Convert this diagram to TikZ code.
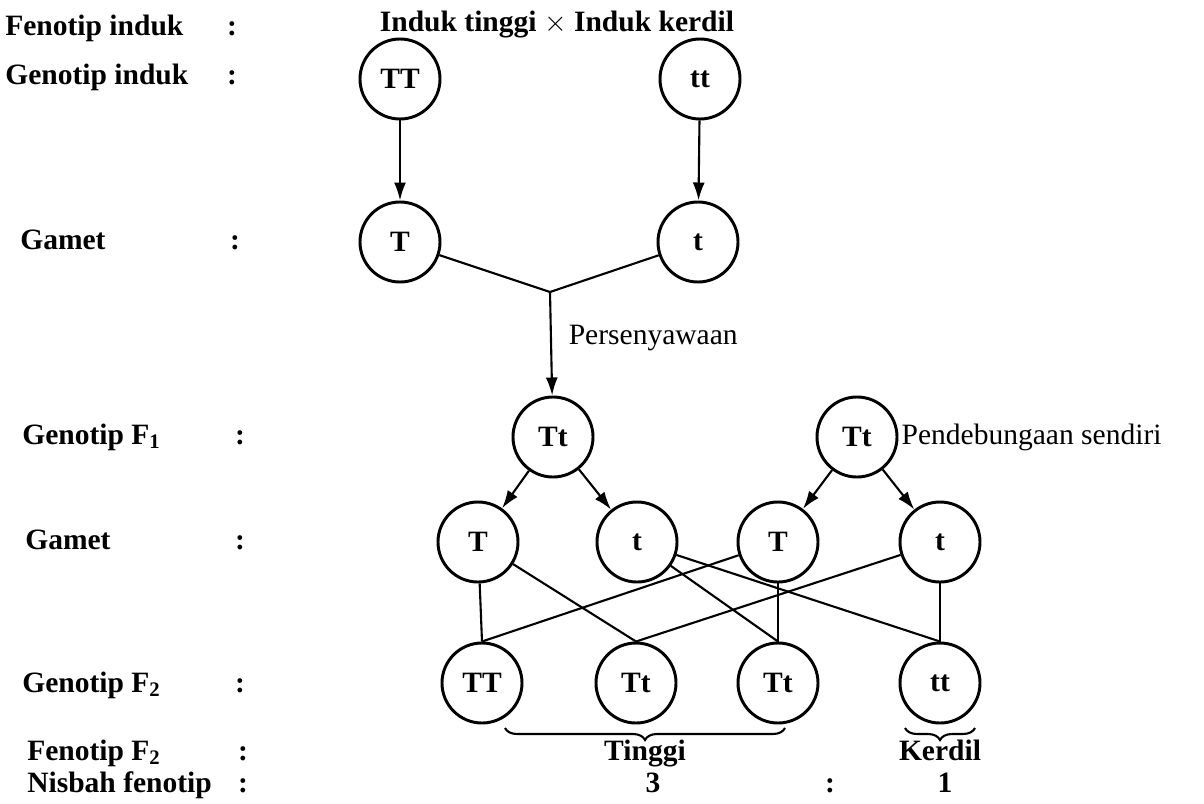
\documentclass[tikz,border=0pt]{standalone}
\usepackage{fontspec}
\setmainfont{Liberation Serif}
\usetikzlibrary{arrows.meta, decorations.pathreplacing, positioning}
\tikzset{
    gene/.style={circle, draw, line width=2.1pt, minimum size=2cm, inner sep=0pt},
    geneArrow/.style={-{Latex[length=4.5mm, width=3mm]}, line width=1.5pt},
    geneLine/.style={line width=1.5pt},
    rowText/.style={inner sep=0pt, text height=14pt, text depth=4pt},
    phenoBrace/.style={decorate, decoration={brace, mirror, amplitude=3mm}, line width=1.5pt},
}
\newcommand{\drawRow}[5]{
    \node[rowText, anchor=west] (#1) at (#2,#4) {#5};
    \node[rowText] (#1c) at (#3,#4) {:};
}
\newcommand{\drawCross}[2]{
    \draw[geneLine] (#1) -- (#2.north);
}

\begin{document}
\begin{tikzpicture}[x=0.025cm, y=-0.025cm, font=\fontsize{21}{25}\selectfont\bfseries]

        \useasboundingbox (0,0) rectangle (1204,803);

        % row labels
        \drawRow{fi}{5}{232}{28}{Fenotip induk}
        \drawRow{gi}{5}{232}{77}{Genotip induk}
        \drawRow{ga}{20}{235}{242}{Gamet}
        \drawRow{gf}{22}{240}{437}{Genotip F\textsubscript{1}}
        \drawRow{gb}{25}{240}{542}{Gamet}
        \drawRow{gs}{22}{240}{685}{Genotip F\textsubscript{2}}
        \drawRow{fs}{27}{243}{753}{Fenotip F\textsubscript{2}}
        \drawRow{nf}{27}{243}{785}{Nisbah fenotip}

        \node[rowText] (cross) at (557,24) {Induk tinggi $\times$ Induk kerdil};

        % parents and gametes
        \node[gene] (pTT) at (400,79) {TT};
        \node[gene] (ptt) at (700,79) {tt};
        \node[gene] (gT) at (400,242) {T};
        \node[gene] (gt) at (698,242) {t};
        \coordinate (j) at (550,292);

        \draw[geneArrow] (pTT) -- (gT);
        \draw[geneArrow] (ptt) -- (gt);
        \draw[geneLine] (gT) -- (j) -- (gt);

        % F1
        \node[gene] (fA) at (553,437) {Tt};
        \node[gene, label={[font=\fontsize{21}{25}\selectfont, inner sep=2pt]right:Pendebungaan sendiri}] (fB) at (857,437) {Tt};
        \draw[geneArrow] (j) -- node[right, xshift=3mm, yshift=1.5mm, font=\fontsize{21}{25}\selectfont] (pers) {Persenyawaan} (fA);

        \node[gene] (g1) at (478,542) {T};
        \node[gene] (g2) at (637,542) {t};
        \node[gene] (g3) at (778,542) {T};
        \node[gene] (g4) at (940,542) {t};

        \draw[geneArrow] (fA) -- (g1);
        \draw[geneArrow] (fA) -- (g2);
        \draw[geneArrow] (fB) -- (g3);
        \draw[geneArrow] (fB) -- (g4);

        % F2
        \node[gene] (h1) at (482,683) {TT};
        \node[gene] (h2) at (636,683) {Tt};
        \node[gene] (h3) at (778,683) {Tt};
        \node[gene] (h4) at (940,683) {tt};

        \drawCross{g1}{h1}
        \drawCross{g3}{h1}
        \drawCross{g1}{h2}
        \drawCross{g4}{h2}
        \drawCross{g2}{h3}
        \drawCross{g3}{h3}
        \drawCross{g2}{h4}
        \drawCross{g4}{h4}

        % phenotypes
        \coordinate (bT1) at (505,728);
        \coordinate (bT2) at (785,728);
        \coordinate (bK1) at (905,728);
        \coordinate (bK2) at (975,728);
        \draw[phenoBrace] (bT1) -- (bT2);
        \draw[phenoBrace] (bK1) -- (bK2);
        \node[rowText] (tinggi) at (645,753) {Tinggi};
        \node[rowText] (kerdil) at (940,753) {Kerdil};

        \node[rowText] (r3) at (653,785) {3};
        \node[rowText] (rc) at (830,785) {:};
        \node[rowText] (r1) at (945,785) {1};

    \end{tikzpicture}
\end{document}
